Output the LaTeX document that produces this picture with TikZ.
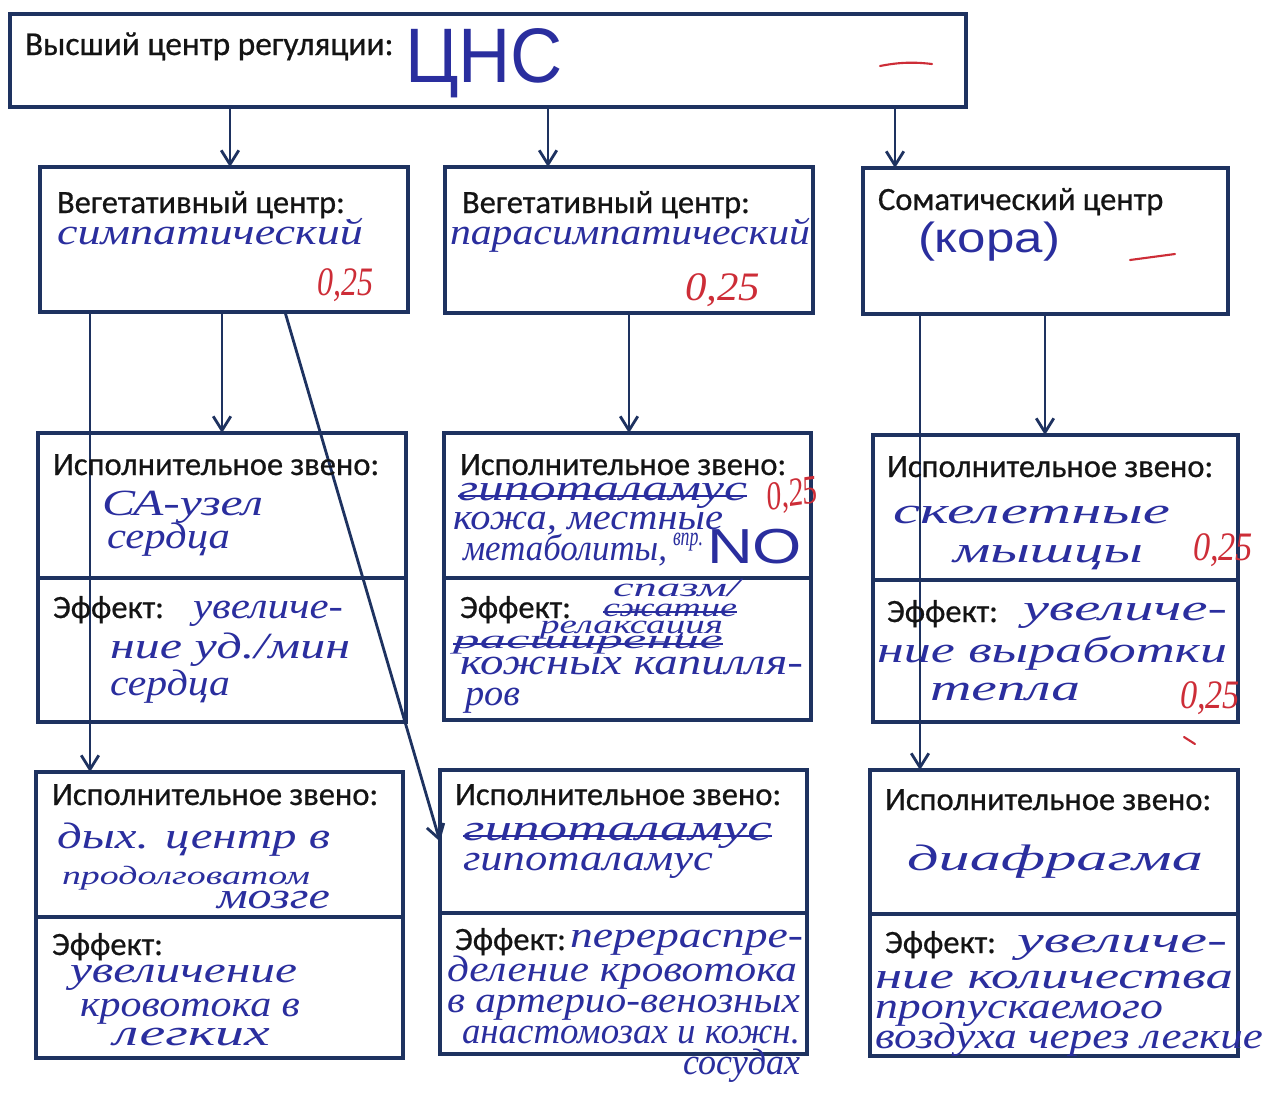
\documentclass[tikz,border=0pt]{standalone}
\usepackage{fontspec}
\usepackage{graphicx}
\setmainfont{Carlito}[FakeBold=0.6]
\newfontfamily\handf{Liberation Serif}
\newfontfamily\handsans{Liberation Sans}
\usetikzlibrary{arrows.meta}
\definecolor{navy}{RGB}{30,50,96}
\definecolor{ink}{RGB}{42,46,158}
\definecolor{redink}{RGB}{205,45,55}
\definecolor{txt}{RGB}{20,20,20}
\tikzset{
  box/.style={draw=navy, line width=1.8pt, inner sep=0pt, outer sep=0pt},
  lab/.style={font=\fontsize{18.5}{22}\selectfont, text=txt, anchor=base west, inner sep=0pt, outer sep=0pt},
  hand/.style={font=\handf\itshape\fontsize{21}{24}\selectfont, text=ink, anchor=base west, inner sep=0pt, outer sep=0pt},
  small/.style={font=\handf\itshape\fontsize{15}{17}\selectfont},
  redm/.style={text=redink, font=\handf\itshape\fontsize{23}{26}\selectfont},
  arr/.style={draw=navy, line width=1.6pt, -{Straight Barb[length=8pt,width=10pt,line width=1.6pt]}},
  strike/.style={draw=ink, line width=1.3pt},
  redline/.style={draw=redink, line width=1.2pt, line cap=round}
}
\newcommand\hw[6][]{\pgfmathsetlengthmacro\hwl{#5*0.02cm}\node[hand,#1] (#2) at (#3,#4) {\resizebox{\hwl}{\height}{#6}};}
\newcommand\boxnode[5]{\node[box, minimum width={(#4-#2)*0.02cm}, minimum height={(#5-#3)*0.02cm}] (#1) at ({(#2+#4)/2},{(#3+#5)/2}) {};}
\begin{document}
\begin{tikzpicture}[x=0.02cm,y=-0.02cm]
\fill[white] (0,0) rectangle (1272,1103);
\useasboundingbox (0,0) rectangle (1272,1103);
% boxes
\boxnode{top}{10}{14}{966}{107}
\boxnode{c1}{40}{167}{408}{312}
\boxnode{c2}{445}{167}{813}{313}
\boxnode{c3}{863}{168}{1228}{314}
\boxnode{l2a}{38}{433}{406}{578}
\boxnode{l2b}{38}{578}{406}{722}
\boxnode{m2a}{444}{433}{811}{578}
\boxnode{m2b}{444}{578}{811}{720}
\boxnode{r2a}{873}{435}{1238}{580}
\boxnode{r2b}{873}{580}{1238}{722}
\boxnode{l3a}{36}{772}{403}{917}
\boxnode{l3b}{36}{917}{403}{1058}
\boxnode{m3a}{440}{770}{807}{913}
\boxnode{m3b}{440}{913}{807}{1054}
\boxnode{r3a}{870}{770}{1238}{914}
\boxnode{r3b}{870}{914}{1238}{1056}
% arrows
\coordinate (xa) at (230,0);
\coordinate (xb) at (548,0);
\coordinate (xc) at (895,0);
\coordinate (xd) at (90,0);
\coordinate (xe) at (285,0);
\coordinate (xf) at (1045,0);
\coordinate (xg) at (920,0);
\draw[arr] (xa |- top.south) -- (xa |- c1.north);
\draw[arr] (xb |- top.south) -- (xb |- c2.north);
\draw[arr] (xc |- top.south) -- (xc |- c3.north);
\draw[arr] (l2a.north |- c1.south) -- (l2a.north);
\draw[arr] (xd |- c1.south) -- (xd |- l3a.north);
\draw[arr] (xe |- c1.south) -- (m3a.west);
\draw[arr] (c2.south) -- (c2.south |- m2a.north);
\draw[arr] (xf |- c3.south) -- (xf |- r2a.north);
\draw[arr] (xg |- c3.south) -- (xg |- r3a.north);
% top
\node[lab, font=\fontsize{19}{22}\selectfont] (t0) at (25,55) {Высший центр регуляции:};
\hw[font=\handsans\fontsize{44}{48}\selectfont]{cns}{405}{82}{158}{ЦНС}
\draw[redline] (880,66) .. controls (900,62) and (915,62) .. (932,64);
% row 1
\node[lab] (c1t) at (57,213) {Вегетативный центр:};
\hw{c1h}{57}{244}{306}{симпатический}
\hw[redm]{c1r}{317}{295}{56}{0,25}
\node[lab] (c2t) at (462,213) {Вегетативный центр:};
\hw{c2h}{450}{244}{360}{парасимпатический}
\hw[redm]{c2r}{685}{300}{75}{0,25}
\node[lab] (c3t) at (878,210) {Соматический центр};
\hw[font=\handsans\fontsize{24}{28}\selectfont]{c3h}{918}{252}{142}{(кора)}
\draw[redline] (1130,260) -- (1175,254);
% row 2 left
\node[lab] (l2t) at (53,475) {Исполнительное звено:};
\hw{l2h1}{102}{515}{161}{СА-узел}
\hw{l2h2}{107}{548}{123}{сердца}
\node[lab] (l2e) at (53,618) {Эффект:};
\hw{l2h3}{193}{618}{150}{увеличе-}
\hw{l2h4}{110}{658}{240}{ние уд./мин}
\hw{l2h5}{110}{695}{120}{сердца}
% row 2 middle
\node[lab] (m2t) at (460,475) {Исполнительное звено:};
\hw{m2s1}{458}{500}{289}{гипоталамус}
\draw[strike] (m2s1.mid west) -- (m2s1.mid east);
\hw{m2h1}{453}{529}{270}{кожа, местные}
\hw{m2h2}{463}{560}{204}{метаболиты,}
\hw[small]{m2h3}{673}{545}{30}{впр.}
\hw[font=\handsans\fontsize{28}{30}\selectfont]{m2h4}{707}{563}{95}{NO}
\hw[redm, rotate=8]{m2r}{768}{510}{52}{0,25}
\node[lab] (m2e) at (460,618) {Эффект:};
\hw[small]{m2h5}{613}{596}{127}{спазм/}
\hw[small]{m2s2}{603}{616}{134}{сжатие}
\draw[strike] (m2s2.mid west) -- (m2s2.mid east);
\hw[small]{m2h6}{540}{633}{183}{релаксация}
\hw[small]{m2s3}{453}{648}{270}{расширение}
\draw[strike] (m2s3.mid west) -- (m2s3.mid east);
\hw{m2h7}{460}{674}{343}{кожных капилля-}
\hw{m2h8}{465}{705}{55}{ров}
% row 2 right
\node[lab] (r2t) at (887,477) {Исполнительное звено:};
\hw{r2h1}{893}{523}{277}{скелетные}
\hw{r2h2}{953}{562}{190}{мышцы}
\hw[redm]{r2r1}{1193}{560}{60}{0,25}
\node[lab] (r2e) at (887,622) {Эффект:};
\hw{r2h3}{1023}{620}{204}{увеличе-}
\hw{r2h4}{877}{662}{350}{ние выработки}
\hw{r2h5}{930}{700}{150}{тепла}
\hw[redm]{r2r2}{1180}{708}{60}{0,25}
\draw[redline] (1184,737) -- (1195,744);
% row 3 left
\node[lab] (l3t) at (52,805) {Исполнительное звено:};
\hw{l3h1}{57}{848}{273}{дых. центр в}
\hw[small]{l3h2}{62}{884}{248}{продолговатом}
\hw{l3h3}{217}{908}{113}{мозге}
\node[lab] (l3e) at (52,955) {Эффект:};
\hw{l3h4}{70}{982}{227}{увеличение}
\hw{l3h5}{80}{1016}{220}{кровотока в}
\hw{l3h6}{113}{1045}{157}{легких}
% row 3 middle
\node[lab] (m3t) at (455,805) {Исполнительное звено:};
\hw{m3s1}{463}{840}{309}{гипоталамус}
\draw[strike] (m3s1.mid west) -- (m3s1.mid east);
\hw{m3h1}{463}{870}{250}{гипоталамус}
\node[lab] (m3e) at (455,950) {Эффект:};
\hw{m3h2}{570}{947}{233}{перераспре-}
\hw{m3h3}{447}{981}{350}{деление кровотока}
\hw{m3h4}{447}{1012}{353}{в артерио-венозных}
\hw{m3h5}{462}{1043}{338}{анастомозах и кожн.}
\hw{m3h6}{683}{1074}{117}{сосудах}
% row 3 right
\node[lab] (r3t) at (885,810) {Исполнительное звено:};
\hw{r3h1}{907}{870}{296}{диафрагма}
\node[lab] (r3e) at (885,953) {Эффект:};
\hw{r3h2}{1017}{952}{210}{увеличе-}
\hw{r3h3}{875}{988}{358}{ние количества}
\hw{r3h4}{875}{1018}{288}{пропускаемого}
\hw{r3h5}{875}{1048}{388}{воздуха через легкие}
\end{tikzpicture}
\end{document}
